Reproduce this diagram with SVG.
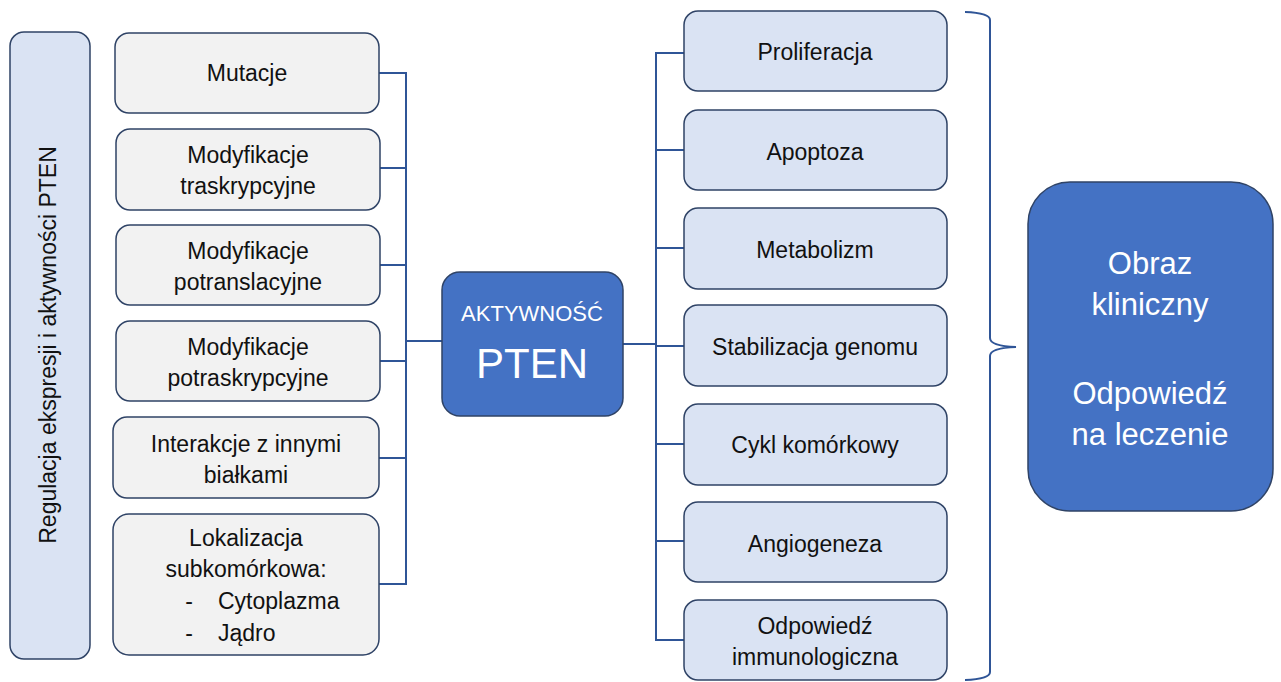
<svg xmlns="http://www.w3.org/2000/svg" width="1281" height="682" viewBox="0 0 1281 682">
<style>
.gray{fill:#f2f2f2;stroke:#2f4366;stroke-width:1.5}
.lb{fill:#dae3f3;stroke:#2f4366;stroke-width:1.5}
.db{fill:#4472c4;stroke:#2f4366;stroke-width:1.5}
.t{font-family:"Liberation Sans",Arial,sans-serif;font-size:23px;fill:#111;text-anchor:middle}
.w{font-family:"Liberation Sans",Arial,sans-serif;fill:#fff;text-anchor:middle}
.con{fill:none;stroke:#2f5597;stroke-width:2}
</style>
<rect width="1281" height="682" fill="#fff"/>
<g id="regulacja">
<rect class="lb" x="10" y="32" width="80" height="627" rx="14"/>
<text class="t" transform="translate(56,345) rotate(-90)">Regulacja ekspresji i aktywności PTEN</text>
</g>
<g id="connectors">
<path class="con" d="M379 73H406V584H379M380 168H406M380 265H406M380 361H406M379 458H406M406 341H442"/>
<path class="con" d="M684 53H656V640H684M684 150H656M684 248H656M684 346H656M684 444H656M684 541H656M623 344H656"/>
<path class="con" d="M965 12Q990 13 990 20V338Q990 346 1016 347Q990 348 990 356V672Q990 679 965 680"/>
</g>
<g id="mutacje"><rect class="gray" x="115" y="33" width="264" height="80" rx="14"/><text class="t" x="247" y="81">Mutacje</text></g>
<g id="mod-trans"><rect class="gray" x="116" y="129" width="264" height="81" rx="14"/><text class="t" x="248" y="163">Modyfikacje</text><text class="t" x="248" y="194">traskrypcyjne</text></g>
<g id="mod-potransl"><rect class="gray" x="116" y="225" width="264" height="80" rx="14"/><text class="t" x="248" y="259">Modyfikacje</text><text class="t" x="248" y="290">potranslacyjne</text></g>
<g id="mod-potraskr"><rect class="gray" x="116" y="321" width="264" height="80" rx="14"/><text class="t" x="248" y="355">Modyfikacje</text><text class="t" x="248" y="386">potraskrypcyjne</text></g>
<g id="interakcje"><rect class="gray" x="113" y="417" width="266" height="81" rx="14"/><text class="t" x="246" y="452">Interakcje z innymi</text><text class="t" x="246" y="483">białkami</text></g>
<g id="lokalizacja"><rect class="gray" x="113" y="514" width="266" height="141" rx="16"/>
<text class="t" x="246" y="546">Lokalizacja</text><text class="t" x="246" y="577">subkomórkowa:</text>
<text class="t" x="189" y="609">-</text><text class="t" x="218" y="609" style="text-anchor:start">Cytoplazma</text>
<text class="t" x="189" y="641">-</text><text class="t" x="218" y="641" style="text-anchor:start">Jądro</text></g>
<g id="pten"><rect class="db" x="442" y="272" width="181" height="144" rx="18"/>
<text class="w" x="532" y="321" font-size="22">AKTYWNOŚĆ</text><text class="w" x="532" y="378" font-size="42">PTEN</text></g>
<g id="proliferacja"><rect class="lb" x="684" y="11" width="263" height="80" rx="14"/><text class="t" x="815" y="60">Proliferacja</text></g>
<g id="apoptoza"><rect class="lb" x="684" y="110" width="263" height="80" rx="14"/><text class="t" x="815" y="160">Apoptoza</text></g>
<g id="metabolizm"><rect class="lb" x="684" y="208" width="263" height="81" rx="14"/><text class="t" x="815" y="258">Metabolizm</text></g>
<g id="stabilizacja"><rect class="lb" x="684" y="305" width="263" height="81" rx="14"/><text class="t" x="815" y="355">Stabilizacja genomu</text></g>
<g id="cykl"><rect class="lb" x="684" y="404" width="263" height="81" rx="14"/><text class="t" x="815" y="453">Cykl komórkowy</text></g>
<g id="angiogeneza"><rect class="lb" x="684" y="502" width="263" height="80" rx="14"/><text class="t" x="815" y="552">Angiogeneza</text></g>
<g id="odpowiedz-imm"><rect class="lb" x="684" y="600" width="263" height="80" rx="14"/><text class="t" x="815" y="634">Odpowiedź</text><text class="t" x="815" y="665">immunologiczna</text></g>
<g id="obraz"><rect class="db" x="1028" y="182" width="245" height="329" rx="42"/>
<text class="w" x="1150" y="274" font-size="31">Obraz</text><text class="w" x="1150" y="315" font-size="31">kliniczny</text>
<text class="w" x="1150" y="404" font-size="31">Odpowiedź</text><text class="w" x="1150" y="445" font-size="31">na leczenie</text></g>
</svg>
